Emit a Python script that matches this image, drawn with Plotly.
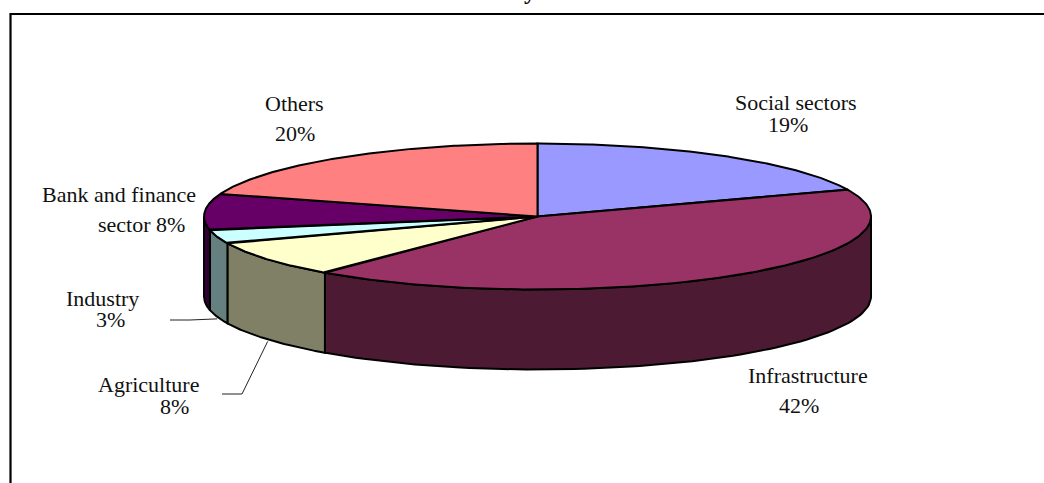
import numpy as np
import plotly.graph_objects as go

categories = ["Social sectors", "Infrastructure", "Agriculture", "Industry", "Bank and finance sector", "Others"]
values = [19, 42, 8, 3, 8, 20]
top_colors = ["#9999FF", "#993366", "#FFFFCC", "#CCFFFF", "#660066", "#FF8080"]
side_colors = ["#4D4D80", "#4D1A33", "#808066", "#668080", "#330033", "#804040"]
label_lines = ["Social sectors", "19%", "Infrastructure", "42%", "Agriculture", "8%", "Industry", "3%",
               "Bank and finance", "sector 8%", "Others", "20%"]
label_x = [796, 788, 808, 799, 148, 174, 102, 110, 118.5, 141, 294, 294.5]
label_y = [102, 124, 375, 405, 384, 406, 298, 319, 194, 224, 103, 133]
title_text = "y"

CX, CY, A, B, DEPTH = 537.5, 216.5, 333.5, 73, 80
LINE = dict(color="#000000", width=2)


def rim(t, drop=0):
    t = np.asarray(t)
    return CX + A * np.sin(t), CY - B * np.cos(t) + drop


fractions = np.cumsum([0] + values) / sum(values)
angles = 2 * np.pi * fractions

fig = go.Figure()


def poly(x, y, color):
    fig.add_trace(go.Scatter(x=list(x), y=list(y), mode="lines", fill="toself", fillcolor=color,
                             line=LINE, hoverinfo="skip", showlegend=False))


# side walls: only the front half of the cylinder (angles 90..270 deg from the top)
for i in range(len(values)):
    lo, hi = max(angles[i], np.pi / 2), min(angles[i + 1], 3 * np.pi / 2)
    if hi <= lo:
        continue
    t = np.linspace(lo, hi, 80)
    x1, y1 = rim(t)
    x2, y2 = rim(t[::-1], DEPTH)
    poly(np.r_[x1, x2, x1[0]], np.r_[y1, y2, y1[0]], side_colors[i])

# top faces
for i in range(len(values)):
    t = np.linspace(angles[i], angles[i + 1], 160)
    x1, y1 = rim(t)
    poly(np.r_[CX, x1, CX], np.r_[CY, y1, CY], top_colors[i])

# leader lines for the two small labels
mid = (angles[2] + angles[3]) / 2
x0, y0 = rim(mid, DEPTH + 2)
fig.add_trace(go.Scatter(x=[x0, 242, 222], y=[y0, 394, 394], mode="lines",
                         line=dict(color="#222222", width=1), hoverinfo="skip", showlegend=False))
mid = (angles[3] + angles[4]) / 2
x0, y0 = rim(mid, DEPTH + 2)
fig.add_trace(go.Scatter(x=[x0, 190, 170], y=[y0, 320, 320], mode="lines",
                         line=dict(color="#222222", width=1), hoverinfo="skip", showlegend=False))

FONT = dict(family="Liberation Serif", size=22, color="#111111")
for x, y, txt in zip(label_x, label_y, label_lines):
    fig.add_annotation(x=x, y=y, text=txt, showarrow=False, font=FONT,
                       xanchor="center", yanchor="middle")

fig.add_annotation(x=530, xref="x", yref="paper", y=1, yshift=-6, yanchor="bottom",
                   text="<b>" + title_text + "</b>", showarrow=False,
                   font=dict(family="Liberation Serif", size=24, color="#000000"))

fig.add_shape(type="rect", xref="x", yref="y", x0=10.5, y0=14, x1=1100, y1=540,
              line=dict(color="#000000", width=2.2), layer="below")

fig.update_xaxes(visible=False, range=[0, 1044], fixedrange=True)
fig.update_yaxes(visible=False, range=[483, 0], fixedrange=True)
fig.update_layout(width=1044, height=483, margin=dict(l=0, r=0, t=0, b=0),
                  paper_bgcolor="white", plot_bgcolor="white", showlegend=False)
fig.write_html("out.html", config={"displayModeBar": False},
               post_script="document.body.style.margin='0';document.body.style.overflow='hidden';")
